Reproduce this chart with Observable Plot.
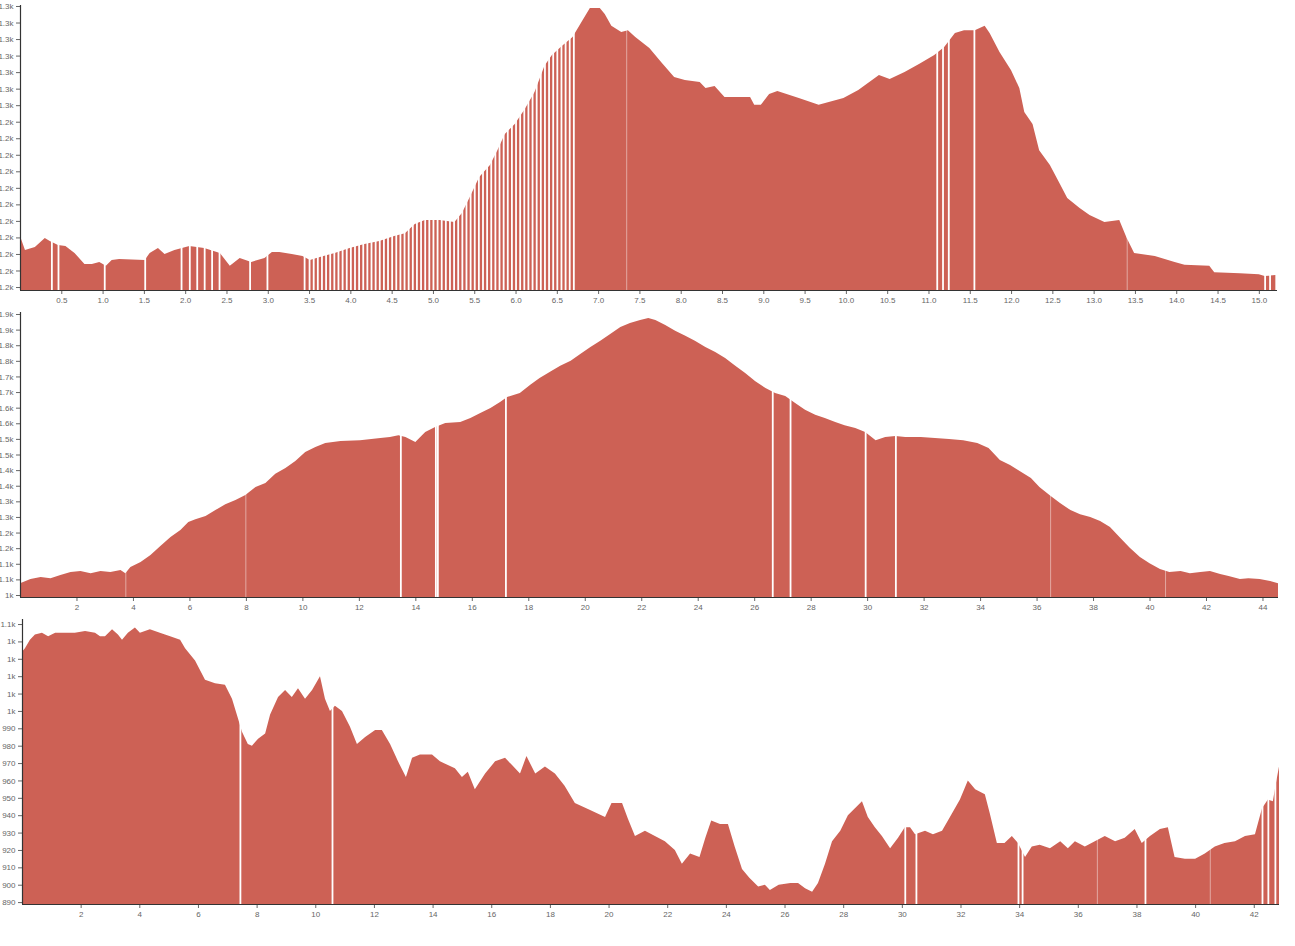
<!DOCTYPE html>
<html><head><meta charset="utf-8">
<script src="https://cdn.jsdelivr.net/npm/d3@7"></script>
<script src="https://cdn.jsdelivr.net/npm/@observablehq/plot@0.6"></script>
<style>
body{margin:0;background:#fff;}
#charts svg{display:block;}
</style></head><body><div id="charts"></div>
<script>
// ---------- Stage 1 ----------
const s1Dist = [0,0.06,0.18,0.30,0.36,0.46,0.55,0.66,0.78,0.87,0.96,1.04,1.11,1.2,1.51,1.57,1.67,1.75,1.87,2.05,2.23,2.42,2.54,2.66,2.8,2.96,3.05,3.14,3.29,3.42,3.51,3.63,3.81,3.99,4.17,4.35,4.53,4.66,4.78,4.9,5.08,5.26,5.35,5.44,5.56,5.69,5.78,5.87,5.99,6.11,6.23,6.35,6.44,6.56,6.69,6.8,6.9,7.02,7.08,7.16,7.28,7.36,7.45,7.62,7.77,7.92,8.05,8.23,8.3,8.41,8.53,8.84,8.89,8.97,9.07,9.17,9.43,9.67,9.97,10.15,10.4,10.53,10.71,10.89,11.07,11.19,11.32,11.43,11.56,11.68,11.74,11.86,12.0,12.1,12.16,12.26,12.34,12.47,12.59,12.68,12.83,12.95,13.13,13.31,13.4,13.49,13.74,13.98,14.1,14.4,14.46,14.77,15.0,15.07,15.2];
const s1Elev = [1210.4,1206.2,1207.1,1209.8,1208.9,1207.7,1207.4,1205.3,1202.0,1202.0,1202.6,1201.4,1203.2,1203.5,1203.2,1205.3,1206.8,1205.0,1206.2,1207.4,1206.8,1205.3,1201.4,1203.8,1202.6,1203.8,1205.6,1205.6,1205.0,1204.4,1203.2,1204.1,1205.3,1206.8,1208.0,1208.9,1210.4,1211.3,1214.1,1215.3,1215.3,1214.7,1217.4,1221.9,1228.3,1231.9,1236.4,1241.3,1244.3,1248.8,1254.0,1261.9,1265.2,1267.9,1270.6,1275.2,1279.4,1279.4,1277.6,1274.0,1272.1,1272.7,1270.6,1267.3,1262.8,1258.5,1257.6,1257.0,1255.2,1255.8,1252.5,1252.5,1250.1,1250.1,1253.4,1254.3,1252.2,1250.1,1252.2,1254.6,1259.1,1257.9,1260.0,1262.5,1265.2,1267.6,1271.8,1272.7,1272.7,1274.0,1271.8,1266.1,1260.6,1255.2,1247.9,1244.3,1236.4,1231.9,1226.2,1221.9,1218.9,1216.8,1214.7,1215.3,1209.8,1205.3,1204.4,1202.6,1201.7,1201.4,1199.5,1199.2,1198.9,1198.3,1198.6];
const s1Gaps = [0.38,0.46,1.02,1.51,1.95,2.05,2.14,2.23,2.32,2.41,2.78,2.99,3.44,3.5,3.55,3.6,3.65,3.7,3.75,3.8,3.85,3.9,3.95,4.0,4.05,4.1,4.15,4.2,4.25,4.3,4.35,4.4,4.45,4.5,4.55,4.6,4.65,4.7,4.75,4.8,4.85,4.9,4.95,5.0,5.05,5.1,5.15,5.2,5.25,5.3,5.35,5.4,5.45,5.5,5.55,5.6,5.65,5.7,5.75,5.8,5.85,5.9,5.95,6.0,6.05,6.1,6.15,6.2,6.25,6.3,6.35,6.4,6.45,6.5,6.55,6.6,6.65,6.7,11.1,11.17,11.24,11.55,15.07,15.13];
const s1Faint = [7.34,13.4];
const s1XTicks = [0.5,1.0,1.5,2.0,2.5,3.0,3.5,4.0,4.5,5.0,5.5,6.0,6.5,7.0,7.5,8.0,8.5,9.0,9.5,10.0,10.5,11.0,11.5,12.0,12.5,13.0,13.5,14.0,14.5,15.0];
const s1YTicks = [1195,1200,1205,1210,1215,1220,1225,1230,1235,1240,1245,1250,1255,1260,1265,1270,1275,1280];

// ---------- Stage 2 ----------
const s2Dist = [0,0.37,0.73,1.08,1.43,1.79,2.14,2.5,2.85,3.2,3.56,3.73,3.91,4.27,4.62,4.97,5.33,5.68,5.96,6.21,6.57,6.92,7.27,7.63,7.98,8.34,8.69,9.04,9.4,9.75,10.1,10.46,10.81,11.35,12.04,12.76,13.1,13.4,13.65,14.0,14.35,14.7,15.06,15.59,15.95,16.3,16.66,17.0,17.25,17.7,18.07,18.4,18.8,19.13,19.5,19.84,20.2,20.55,20.9,21.26,21.6,21.96,22.25,22.5,22.85,23.2,23.56,23.9,24.27,24.62,24.97,25.33,25.68,26.04,26.4,26.74,27.1,27.45,27.8,28.16,28.5,28.87,29.2,29.58,29.93,30.3,30.64,31.0,31.35,31.9,32.4,32.9,33.4,33.9,34.3,34.7,35.06,35.4,35.8,36.1,36.5,36.83,37.2,37.54,37.9,38.25,38.6,38.96,39.3,39.66,40.0,40.37,40.7,41.1,41.43,41.8,42.14,42.5,42.8,43.2,43.5,43.9,44.27,44.55];
const s2Elev = [1038,1051,1058,1054,1064,1074,1077,1070,1077,1074,1080,1070,1090,1106,1128,1157,1186,1208,1234,1243,1253,1272,1291,1304,1320,1346,1359,1388,1407,1429,1458,1474,1487,1493,1496,1503,1506,1512,1506,1490,1522,1538,1551,1554,1567,1583,1599,1618,1634,1647,1673,1695,1717,1734,1750,1772,1794,1814,1836,1858,1871,1881,1887,1881,1865,1846,1830,1814,1794,1778,1759,1734,1711,1685,1663,1647,1637,1615,1593,1577,1567,1554,1544,1535,1522,1496,1506,1509,1506,1506,1503,1500,1496,1487,1471,1432,1416,1397,1375,1346,1317,1295,1272,1259,1250,1237,1218,1183,1151,1122,1102,1083,1074,1077,1070,1074,1077,1067,1061,1051,1054,1051,1045,1038];
const s2Gaps = [13.47,14.71,14.78,17.19,26.64,27.27,29.93,31.0];
const s2Faint = [3.73,7.98,36.48,40.55];
const s2XTicks = [2,4,6,8,10,12,14,16,18,20,22,24,26,28,30,32,34,36,38,40,42,44];
const s2YTicks = [1000,1050,1100,1150,1200,1250,1300,1350,1400,1450,1500,1550,1600,1650,1700,1750,1800,1850,1900];

// ---------- Stage 3 ----------
const s3Dist = [0,0.1,0.27,0.44,0.68,0.89,1.13,1.47,1.8,2.15,2.49,2.66,2.83,3.07,3.27,3.41,3.61,3.85,4.02,4.36,4.7,5.05,5.39,5.56,5.9,6.24,6.58,6.92,7.16,7.36,7.5,7.7,7.84,8.05,8.29,8.46,8.73,8.97,9.2,9.41,9.65,9.89,10.16,10.33,10.5,10.67,10.91,11.18,11.42,11.7,12.04,12.27,12.55,12.82,13.09,13.3,13.57,13.98,14.25,14.76,15.0,15.2,15.44,15.79,16.13,16.47,16.7,16.98,17.2,17.5,17.83,18.17,18.5,18.85,19.37,19.88,20.1,20.46,20.66,20.9,21.24,21.58,21.92,22.26,22.5,22.78,23.1,23.3,23.5,23.8,24.07,24.3,24.55,24.8,25.1,25.33,25.5,25.8,26.2,26.46,26.7,26.94,27.14,27.38,27.62,27.9,28.16,28.4,28.64,28.84,29.08,29.32,29.6,29.87,30.1,30.28,30.45,30.79,31.06,31.37,31.64,31.98,32.25,32.5,32.83,33.0,33.24,33.5,33.75,33.96,34.2,34.43,34.7,35.05,35.4,35.66,35.9,36.24,36.58,36.92,37.27,37.6,37.94,38.18,38.46,38.8,39.07,39.3,39.65,40.0,40.33,40.67,41.0,41.36,41.7,42.04,42.28,42.48,42.65,42.75,42.86];
const s3Elev = [1034,1036,1041,1044,1045,1043,1045,1045,1045,1046,1045,1043,1043,1047,1044,1041,1045,1048,1045,1047,1045,1043,1041,1036,1029,1018,1016,1015,1007,996,988,981,980,984,987,998,1008,1012,1008,1013,1007,1012,1020,1007,1000,1003,1000,991,981,985,989,989,981,971,962,973,975,975,971,967,962,965,955,964,971,973,969,964,974,964,968,964,957,947,943,939,947,947,938,928,931,928,925,920,912,918,916,927,937,935,935,922,909,904,899,900,897,900,901,901,898,896,901,912,925,931,940,944,948,939,933,928,921,927,933,933,929,931,929,931,939,949,960,955,952,941,924,924,928,924,916,922,923,921,925,921,925,922,925,928,925,927,932,924,928,932,933,916,915,915,918,922,924,925,928,929,944,949,948,958,968];
const s3Gaps = [7.43,10.57,30.1,30.48,33.96,34.1,38.29,42.28,42.48,42.72];
const s3Faint = [36.65,40.5];
const s3XTicks = [2,4,6,8,10,12,14,16,18,20,22,24,26,28,30,32,34,36,38,40,42];
const s3YTicks = [890,900,910,920,930,940,950,960,970,980,990,1000,1010,1020,1030,1040,1050];

const FILL = "#cd6155";
const yFmt = d3.format(".2~s");

function profile(o) {
  const data = o.dist.map((d, i) => ({d, e: o.elev[i]}));
  return Plot.plot({
    width: 1295,
    height: o.height,
    marginLeft: o.marginLeft,
    marginRight: o.marginRight,
    marginTop: o.marginTop,
    marginBottom: o.marginBottom,
    style: {fontFamily: "'Liberation Sans', Arial, sans-serif", fontSize: "8px", color: "#666", background: "white", overflow: "visible"},
    x: {domain: o.xDomain, ticks: o.xTicks, tickFormat: o.xFormat, tickSize: 4, tickPadding: 3, label: null},
    y: {domain: o.yDomain, ticks: o.yTicks, tickFormat: yFmt, tickSize: 4, tickPadding: 3, label: null},
    marks: [
      Plot.areaY(data, {x: "d", y1: o.yDomain[0], y2: "e", fill: FILL, curve: "linear"}),
      Plot.ruleY([o.yDomain[0]], {stroke: "#333", strokeWidth: 1.2}),
      Plot.ruleX([o.xDomain[0]], {stroke: "#333", strokeWidth: 1.2}),
      Plot.ruleX(o.gaps, {x: d => d, stroke: "white", strokeWidth: 1.8}),
      Plot.ruleX(o.faint, {x: d => d, stroke: "white", strokeWidth: 1, strokeOpacity: 0.45})
    ]
  });
}

const root = document.getElementById("charts");
root.append(profile({
  dist: s1Dist, elev: s1Elev, gaps: s1Gaps, faint: s1Faint,
  xTicks: s1XTicks, yTicks: s1YTicks, xFormat: d3.format(".1f"),
  xDomain: [0, 15.22], yDomain: [1194.1, 1280.3],
  height: 307, marginLeft: 20, marginRight: 18, marginTop: 5, marginBottom: 17
}));
root.append(profile({
  dist: s2Dist, elev: s2Elev, gaps: s2Gaps, faint: s2Faint,
  xTicks: s2XTicks, yTicks: s2YTicks, xFormat: d3.format("d"),
  xDomain: [0, 44.55], yDomain: [993.6, 1906.4],
  height: 307, marginLeft: 20, marginRight: 17, marginTop: 5, marginBottom: 17
}));
root.append(profile({
  dist: s3Dist, elev: s3Elev, gaps: s3Gaps, faint: s3Faint,
  xTicks: s3XTicks, yTicks: s3YTicks, xFormat: d3.format("d"),
  xDomain: [0, 42.86], yDomain: [888.9, 1052.9],
  height: 320, marginLeft: 22, marginRight: 16, marginTop: 5, marginBottom: 30
}));
</script></body></html>
